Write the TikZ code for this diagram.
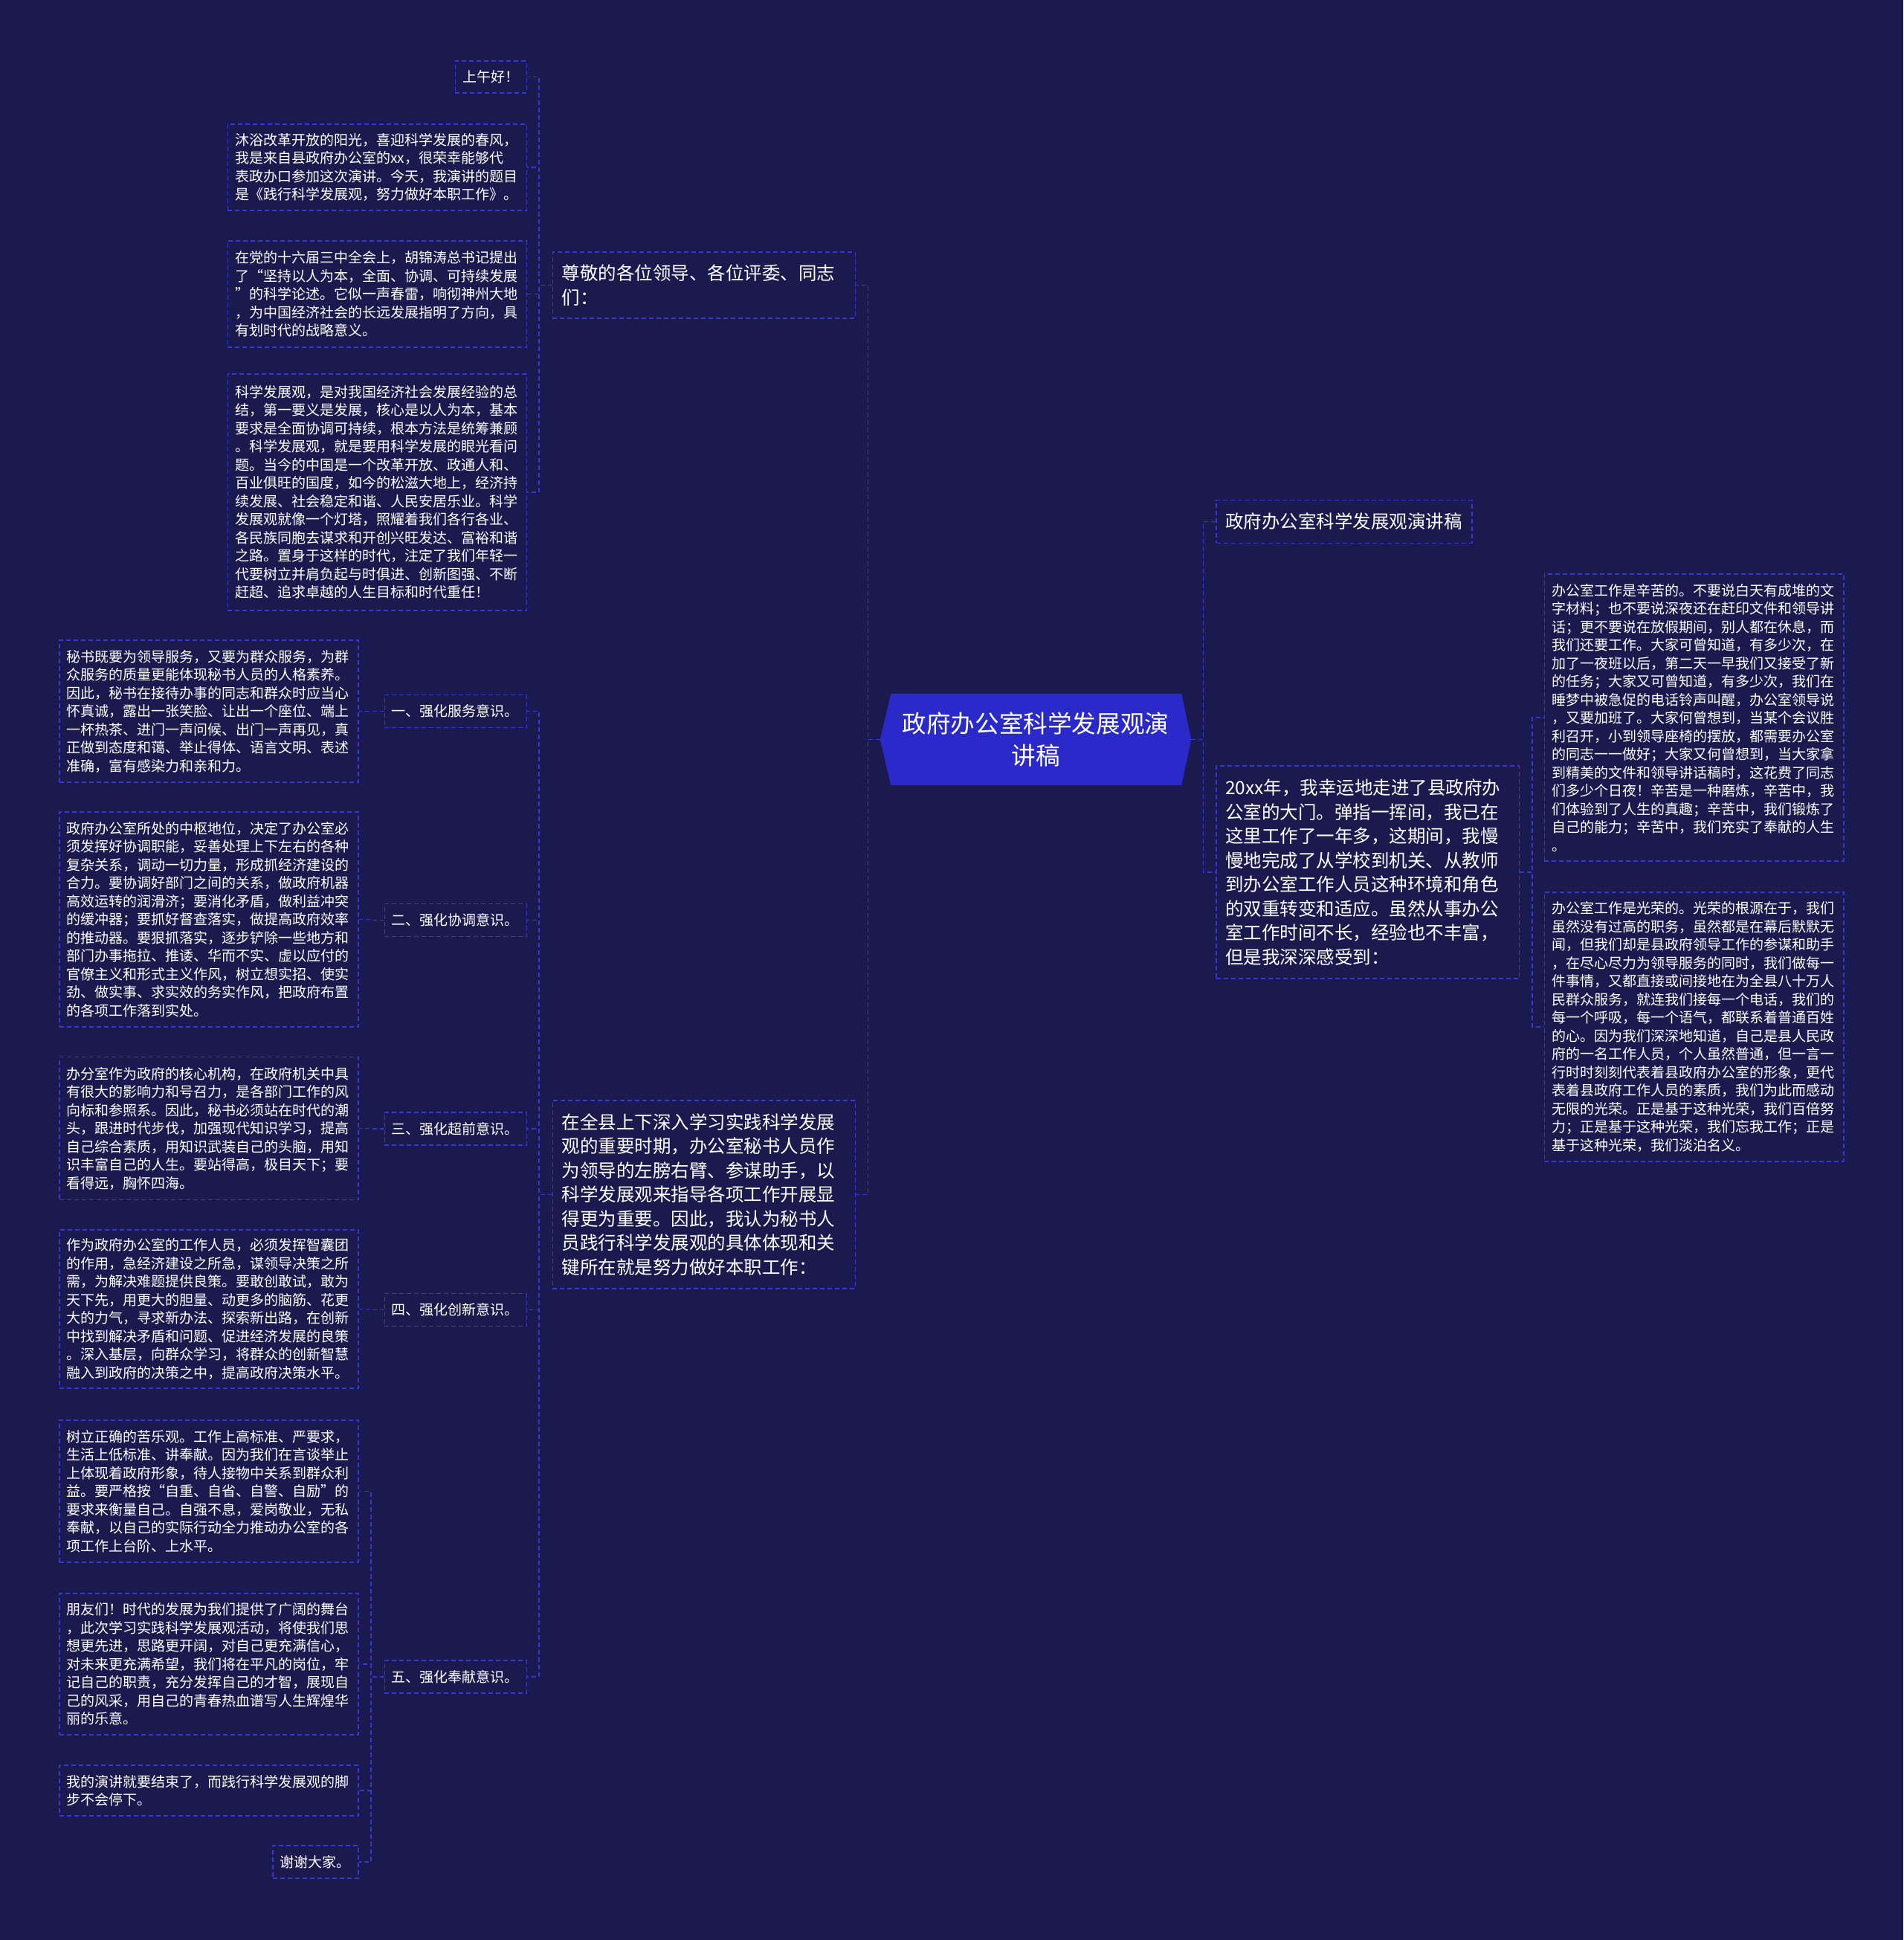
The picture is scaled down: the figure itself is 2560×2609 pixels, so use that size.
\documentclass[tikz,border=0pt]{standalone}
\usepackage{fontspec}
\setmainfont{Noto Sans CJK SC}
\usetikzlibrary{calc}
\definecolor{bg}{HTML}{1A1A4F}
\definecolor{dashc}{HTML}{3737D8}
\definecolor{hub}{HTML}{2A2ACB}
\pgfdeclarelayer{back}
\pgfdeclarelayer{mid}
\pgfsetlayers{back,mid,main}
\begin{document}
\begin{tikzpicture}[x=1pt,y=-1pt,
 every node/.style={text=white},
 box/.style={draw=dashc, line width=1.5pt, dash pattern=on 6pt off 4pt, align=left, inner ysep=0pt},
 sm/.style={box, font=\fontsize{19}{24.5}\selectfont, inner xsep=10pt},
 big/.style={box, font=\fontsize{24.5}{32.5}\selectfont, inner xsep=12.5pt},
 conn/.style={draw=dashc, line width=1.5pt, dash pattern=on 6pt off 4pt}]

\begin{pgfonlayer}{back}
\fill[bg] (0,0) rectangle (2560,2609);
\end{pgfonlayer}
\useasboundingbox (0,0) rectangle (2560,2609);

% centre
\node[font=\fontsize{32.6}{42.7}\selectfont, align=center, minimum width=418pt, minimum height=123pt, inner sep=0pt] (c) at (1393,994.5)
 {政府办公室科学发展观演\\讲稿};
\begin{pgfonlayer}{mid}
\fill[hub] (c.west) -- ($(c.north west)+(14.5,0)$) -- ($(c.north east)+(-13,0)$) -- (c.east)
 -- ($(c.south east)+(-13,0)$) -- ($(c.south west)+(14.5,0)$) -- cycle;
\end{pgfonlayer}

% left middle nodes
\node[big, text width=382pt, minimum height=89pt, anchor=east] (zj) at (1151,383.5)
 {尊敬的各位领导、各位评委、同志\\们：};
\node[big, text width=382pt, minimum height=253pt, anchor=east] (qx) at (1151,1606.5)
 {在全县上下深入学习实践科学发展\\
观的重要时期，办公室秘书人员作\\
为领导的左膀右臂、参谋助手，以\\
科学发展观来指导各项工作开展显\\
得更为重要。因此，我认为秘书人\\
员践行科学发展观的具体体现和关\\
键所在就是努力做好本职工作：};

% children of zj
\node[sm, text width=76pt, minimum height=43pt, anchor=east] (hello) at (709,103.5) {上午好！};
\node[sm, text width=382pt, minimum height=116pt, anchor=east] (muyu) at (709,225)
 {沐浴改革开放的阳光，喜迎科学发展的春风，\\
我是来自县政府办公室的xx，很荣幸能够代\\
表政办口参加这次演讲。今天，我演讲的题目\\
是《践行科学发展观，努力做好本职工作》。};
\node[sm, text width=382pt, minimum height=143pt, anchor=east] (dang) at (709,395.5)
 {在党的十六届三中全会上，胡锦涛总书记提出\\
了“坚持以人为本，全面、协调、可持续发展\\
”的科学论述。它似一声春雷，响彻神州大地\\
，为中国经济社会的长远发展指明了方向，具\\
有划时代的战略意义。};
\node[sm, text width=382pt, minimum height=318pt, anchor=east] (kx) at (709,662)
 {科学发展观，是对我国经济社会发展经验的总\\
结，第一要义是发展，核心是以人为本，基本\\
要求是全面协调可持续，根本方法是统筹兼顾\\
。科学发展观，就是要用科学发展的眼光看问\\
题。当今的中国是一个改革开放、政通人和、\\
百业俱旺的国度，如今的松滋大地上，经济持\\
续发展、社会稳定和谐、人民安居乐业。科学\\
发展观就像一个灯塔，照耀着我们各行各业、\\
各民族同胞去谋求和开创兴旺发达、富裕和谐\\
之路。置身于这样的时代，注定了我们年轻一\\
代要树立并肩负起与时俱进、创新图强、不断\\
赶超、追求卓越的人生目标和时代重任！};

% items
\node[sm, text width=172pt, inner xsep=9.5pt, minimum height=44pt, anchor=east] (i1) at (709,956.5) {一、强化服务意识。};
\node[sm, text width=172pt, inner xsep=9.5pt, minimum height=44pt, anchor=east] (i2) at (709,1237.5) {二、强化协调意识。};
\node[sm, text width=172pt, inner xsep=9.5pt, minimum height=44pt, anchor=east] (i3) at (709,1518) {三、强化超前意识。};
\node[sm, text width=172pt, inner xsep=9.5pt, minimum height=44pt, anchor=east] (i4) at (709,1761.5) {四、强化创新意识。};
\node[sm, text width=172pt, inner xsep=9.5pt, minimum height=44pt, anchor=east] (i5) at (709,2255) {五、强化奉献意识。};

% paragraphs
\node[sm, text width=382pt, minimum height=191pt, anchor=east] (p1) at (482.5,956.5)
 {秘书既要为领导服务，又要为群众服务，为群\\
众服务的质量更能体现秘书人员的人格素养。\\
因此，秘书在接待办事的同志和群众时应当心\\
怀真诚，露出一张笑脸、让出一个座位、端上\\
一杯热茶、进门一声问候、出门一声再见，真\\
正做到态度和蔼、举止得体、语言文明、表述\\
准确，富有感染力和亲和力。};
\node[sm, text width=382pt, minimum height=289pt, anchor=east] (p2) at (482.5,1236.5)
 {政府办公室所处的中枢地位，决定了办公室必\\
须发挥好协调职能，妥善处理上下左右的各种\\
复杂关系，调动一切力量，形成抓经济建设的\\
合力。要协调好部门之间的关系，做政府机器\\
高效运转的润滑济；要消化矛盾，做利益冲突\\
的缓冲器；要抓好督查落实，做提高政府效率\\
的推动器。要狠抓落实，逐步铲除一些地方和\\
部门办事拖拉、推诿、华而不实、虚以应付的\\
官僚主义和形式主义作风，树立想实招、使实\\
劲、做实事、求实效的务实作风，把政府布置\\
的各项工作落到实处。};
\node[sm, text width=382pt, minimum height=192pt, anchor=east] (p3) at (482.5,1517.7)
 {办分室作为政府的核心机构，在政府机关中具\\
有很大的影响力和号召力，是各部门工作的风\\
向标和参照系。因此，秘书必须站在时代的潮\\
头，跟进时代步伐，加强现代知识学习，提高\\
自己综合素质，用知识武装自己的头脑，用知\\
识丰富自己的人生。要站得高，极目天下；要\\
看得远，胸怀四海。};
\node[sm, text width=382pt, minimum height=213pt, anchor=east] (p4) at (482.5,1760.5)
 {作为政府办公室的工作人员，必须发挥智囊团\\
的作用，急经济建设之所急，谋领导决策之所\\
需，为解决难题提供良策。要敢创敢试，敢为\\
天下先，用更大的胆量、动更多的脑筋、花更\\
大的力气，寻求新办法、探索新出路，在创新\\
中找到解决矛盾和问题、促进经济发展的良策\\
。深入基层，向群众学习，将群众的创新智慧\\
融入到政府的决策之中，提高政府决策水平。};
\node[sm, text width=382pt, minimum height=191pt, anchor=east] (p5a) at (482.5,2005.5)
 {树立正确的苦乐观。工作上高标准、严要求，\\
生活上低标准、讲奉献。因为我们在言谈举止\\
上体现着政府形象，待人接物中关系到群众利\\
益。要严格按“自重、自省、自警、自励”的\\
要求来衡量自己。自强不息，爱岗敬业，无私\\
奉献，以自己的实际行动全力推动办公室的各\\
项工作上台阶、上水平。};
\node[sm, text width=382pt, minimum height=190pt, anchor=east] (p5b) at (482.5,2238)
 {朋友们！时代的发展为我们提供了广阔的舞台\\
，此次学习实践科学发展观活动，将使我们思\\
想更先进，思路更开阔，对自己更充满信心，\\
对未来更充满希望，我们将在平凡的岗位，牢\\
记自己的职责，充分发挥自己的才智，展现自\\
己的风采，用自己的青春热血谱写人生辉煌华\\
丽的乐意。};
\node[sm, text width=382pt, minimum height=68pt, anchor=east] (p5c) at (482.5,2408)
 {我的演讲就要结束了，而践行科学发展观的脚\\
步不会停下。};
\node[sm, text width=95pt, minimum height=44pt, anchor=east] (p5d) at (482.5,2504) {谢谢大家。};

% right side
\node[big, text width=319pt, minimum height=57.7pt, anchor=west] (title) at (1635,701.5) {政府办公室科学发展观演讲稿};
\node[big, text width=382.6pt, minimum height=286pt, anchor=west] (x20) at (1635,1173)
 {20xx年，我幸运地走进了县政府办\\
公室的大门。弹指一挥间，我已在\\
这里工作了一年多，这期间，我慢\\
慢地完成了从学校到机关、从教师\\
到办公室工作人员这种环境和角色\\
的双重转变和适应。虽然从事办公\\
室工作时间不长，经验也不丰富，\\
但是我深深感受到：};
\node[sm, text width=382.3pt, minimum height=386pt, anchor=west] (xk) at (2076.7,965)
 {办公室工作是辛苦的。不要说白天有成堆的文\\
字材料；也不要说深夜还在赶印文件和领导讲\\
话；更不要说在放假期间，别人都在休息，而\\
我们还要工作。大家可曾知道，有多少次，在\\
加了一夜班以后，第二天一早我们又接受了新\\
的任务；大家又可曾知道，有多少次，我们在\\
睡梦中被急促的电话铃声叫醒，办公室领导说\\
，又要加班了。大家何曾想到，当某个会议胜\\
利召开，小到领导座椅的摆放，都需要办公室\\
的同志一一做好；大家又何曾想到，当大家拿\\
到精美的文件和领导讲话稿时，这花费了同志\\
们多少个日夜！辛苦是一种磨炼，辛苦中，我\\
们体验到了人生的真趣；辛苦中，我们锻炼了\\
自己的能力；辛苦中，我们充实了奉献的人生\\
。};
\node[sm, text width=382.3pt, minimum height=362pt, anchor=west] (gr) at (2076.7,1381)
 {办公室工作是光荣的。光荣的根源在于，我们\\
虽然没有过高的职务，虽然都是在幕后默默无\\
闻，但我们却是县政府领导工作的参谋和助手\\
，在尽心尽力为领导服务的同时，我们做每一\\
件事情，又都直接或间接地在为全县八十万人\\
民群众服务，就连我们接每一个电话，我们的\\
每一个呼吸，每一个语气，都联系着普通百姓\\
的心。因为我们深深地知道，自己是县人民政\\
府的一名工作人员，个人虽然普通，但一言一\\
行时时刻刻代表着县政府办公室的形象，更代\\
表着县政府工作人员的素质，我们为此而感动\\
无限的光荣。正是基于这种光荣，我们百倍努\\
力；正是基于这种光荣，我们忘我工作；正是\\
基于这种光荣，我们淡泊名义。};

% connectors
\foreach \t in {zj,qx} \draw[conn] (c.west) -- ++(-16.5,0) |- (\t.east);
\foreach \t in {hello,muyu,dang,kx} \draw[conn] (zj.west) -- ++(-17.5,0) |- (\t.east);
\foreach \t in {i1,i2,i3,i4,i5} \draw[conn] (qx.west) -- ++(-17.5,0) |- (\t.east);
\draw[conn] (i1.west) -- ++(-17.7,0) |- (p1.east);
\draw[conn] (i2.west) -- ++(-17.7,0) |- (p2.east);
\draw[conn] (i3.west) -- ++(-17.7,0) |- (p3.east);
\draw[conn] (i4.west) -- ++(-17.7,0) |- (p4.east);
\foreach \t in {p5a,p5b,p5c,p5d} \draw[conn] (i5.west) -- ++(-17.7,0) |- (\t.east);
\foreach \t in {title,x20} \draw[conn] (c.east) -- ++(16.5,0) |- (\t.west);
\foreach \t in {xk,gr} \draw[conn] (x20.east) -- ++(17,0) |- (\t.west);
\end{tikzpicture}
\end{document}
